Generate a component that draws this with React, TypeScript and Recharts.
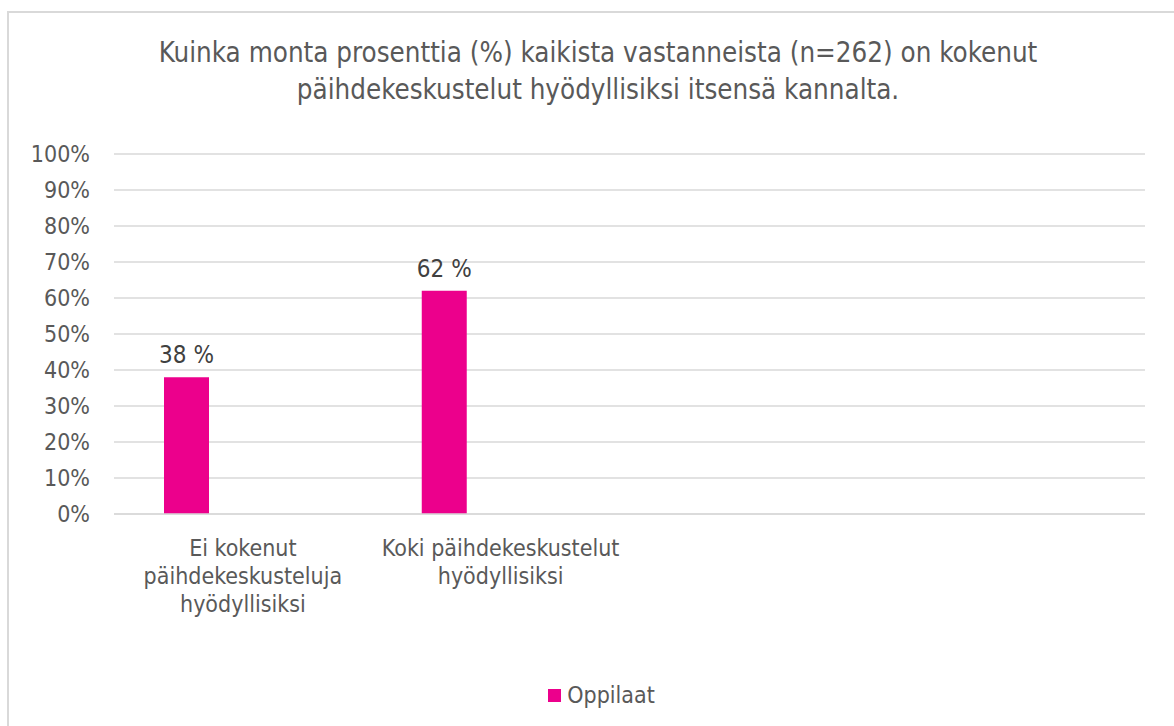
import * as React from "react";
import { BarChart, Bar, XAxis, YAxis, CartesianGrid, Legend, LabelList } from "recharts";

const categories = [
  "Ei kokenut\npäihdekeskusteluja\nhyödyllisiksi",
  "Koki päihdekeskustelut\nhyödyllisiksi",
  "",
  "",
];
const oppilaat = [38, 62, null, null];
// toinen sarja on tyhjä, mutta varaa tilan kuten alkuperäisessä kaaviossa
const tyhja = [null, null, null, null];
const yTicks = [0, 10, 20, 30, 40, 50, 60, 70, 80, 90, 100];

const FONT = "'DejaVu Sans Condensed', 'DejaVu Sans', sans-serif";
const TEXT = "#595959";

const data = categories.map((name, i) => ({
  name,
  Oppilaat: oppilaat[i],
  Tyhja: tyhja[i],
}));

function CategoryTick(props: any) {
  const { x, y, payload } = props;
  const lines = String(payload.value).split("\n");
  return (
    <text x={x} y={y} textAnchor="middle" fill={TEXT} fontSize={23} fontFamily={FONT}>
      {lines.map((line, i) => (
        <tspan key={i} x={x} dy={i === 0 ? 34 : 28}>
          {line}
        </tspan>
      ))}
    </text>
  );
}

function LegendContent(props: any) {
  const items = (props.payload || []).filter((p: any) => p.type !== "none");
  return (
    <div style={{ display: "flex", justifyContent: "center", alignItems: "center", height: 24 }}>
      {items.map((p: any) => (
        <div key={p.value} style={{ display: "flex", alignItems: "center" }}>
          <span style={{ width: 13, height: 13, background: p.color, marginRight: 6 }} />
          <span style={{ color: TEXT, fontSize: 23, fontFamily: FONT, lineHeight: "24px" }}>
            {p.value}
          </span>
        </div>
      ))}
    </div>
  );
}

export default function App() {
  return (
    <div
      style={{
        position: "fixed",
        inset: 0,
        overflow: "hidden",
        background: "#fff",
      }}
    >
      <div
        style={{
          position: "absolute",
          left: 7,
          top: 11,
          width: 1300,
          height: 800,
          border: "2px solid #d9d9d9",
        }}
      />
      <div
        style={{
          position: "absolute",
          left: 0,
          top: 34,
          width: 1196,
          textAlign: "center",
          fontFamily: FONT,
          fontSize: 27.5,
          lineHeight: "37px",
          color: TEXT,
        }}
      >
        Kuinka monta prosenttia (%) kaikista vastanneista (n=262) on kokenut
        <br />
        päihdekeskustelut hyödyllisiksi itsensä kannalta.
      </div>
      <div style={{ position: "absolute", left: 0, top: 0 }}>
        <BarChart
          width={1174}
          height={726}
          data={data}
          margin={{ top: 154, right: 29, bottom: 19, left: 0 }}
          barSize={45}
          barGap={68}
        >
          <CartesianGrid vertical={false} stroke="#d9d9d9" strokeWidth={1.5} />
          <XAxis
            dataKey="name"
            height={169}
            tickLine={false}
            axisLine={{ stroke: "#d9d9d9", strokeWidth: 1.5 }}
            tick={<CategoryTick />}
            interval={0}
          />
          <YAxis
            width={114}
            domain={[0, 100]}
            ticks={yTicks}
            tickFormatter={(v) => `${v}%`}
            axisLine={false}
            tickLine={false}
            tickSize={0}
            tickMargin={24}
            tick={{ fill: TEXT, fontSize: 23, fontFamily: FONT }}
          />
          <Legend
            verticalAlign="bottom"
            height={24}
            wrapperStyle={{ left: 29 }}
            content={<LegendContent />}
          />
          <Bar dataKey="Oppilaat" fill="#EC008C" isAnimationActive={false}>
            <LabelList
              dataKey="Oppilaat"
              position="top"
              offset={14}
              formatter={(v: any) => (v == null ? "" : `${v} %`)}
              fill="#404040"
              fontSize={24}
              fontFamily={FONT}
            />
          </Bar>
          <Bar dataKey="Tyhja" fill="#EC008C" legendType="none" isAnimationActive={false} />
        </BarChart>
      </div>
    </div>
  );
}
